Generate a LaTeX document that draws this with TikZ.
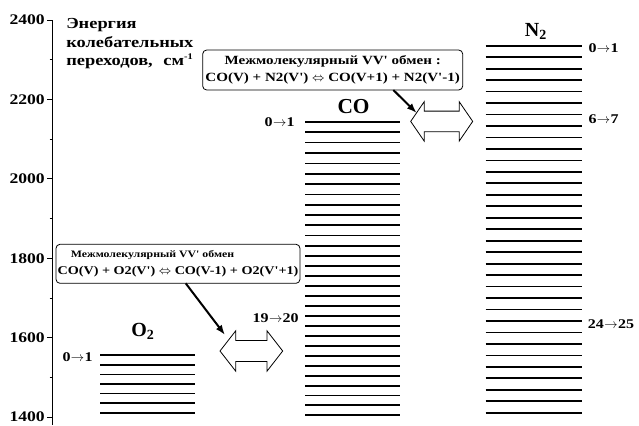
\documentclass[tikz,border=0pt]{standalone}
\usepackage{fontspec}
\setmainfont{Liberation Serif}
\newfontfamily\sfb[FakeStretch=1.2,Ligatures=TeXOff]{Liberation Serif}
\usetikzlibrary{arrows.meta}
\newcommand{\tr}{\kern0.3pt$\rightarrow$\kern0.3pt}
\tikzset{
  lvl/.style={line width=1.3pt},
  axisline/.style={line width=0.6pt},
  ticklab/.style={font=\sfb\bfseries\fontsize{11}{13}\selectfont, anchor=east, inner sep=0pt},
  titlab/.style={font=\sfb\bfseries\fontsize{11.5}{13}\selectfont, anchor=base west, inner sep=0pt},
  levlab/.style={font=\sfb\bfseries\fontsize{10}{12}\selectfont, inner sep=0pt},
  mol/.style={font=\bfseries\fontsize{15}{18}\selectfont, inner sep=0pt, anchor=base},
  infobox/.style={draw, rounded corners=3pt, line width=0.6pt, inner sep=0pt},
  dbl/.style={draw, line width=0.6pt, fill=white, line join=miter},
  conn/.style={line width=1.5pt, -{Latex[length=7.5pt,width=5.5pt]}}
}
\begin{document}
\begin{tikzpicture}[x=0.75pt,y=-0.75pt]
\useasboundingbox (0,0) rectangle (639,425);
% axis
\draw[axisline] (52,20) -- (52,425);
\foreach \e in {1400,1600,...,2400}{
  \draw[axisline] (47,{20+(2400-\e)*0.397}) -- (52,{20+(2400-\e)*0.397});
  \node[ticklab] (t\e) at (45,{20+(2400-\e)*0.397}) {\e};
}
\foreach \e in {1500,1700,...,2300}{
  \draw[axisline] (49.5,{20+(2400-\e)*0.397}) -- (52,{20+(2400-\e)*0.397});
}
% axis title
\node[titlab] (ttl1) at (66,28) {Энергия};
\node[titlab] (ttl2) at (66,47) {колебательных};
\node[titlab] (ttl3) at (66,65) {переходов,\hspace{8pt}см\raisebox{4pt}{\fontsize{6.5}{7}\selectfont -1}};
% O2 levels
\foreach \k in {0,...,6}{
  \draw[lvl] (100,{355.3+9.57*\k}) -- (195,{355.3+9.57*\k});
}
% CO levels
\foreach \k in {0,...,29}{
  \draw[lvl] (305,{121.7+10.487*\k-0.01287*\k*\k}) -- (400,{121.7+10.487*\k-0.01287*\k*\k});
}
% N2 levels
\foreach \k in {0,...,32}{
  \draw[lvl] (485.7,{45.7+11.47*\k}) -- (581.7,{45.7+11.47*\k});
}
% molecule labels
\node[mol] (o2) at (143,336.7) {O\textsubscript{2}};
\node[mol, font=\bfseries\fontsize{16}{19}\selectfont] (co) at (353.5,113) {CO};
\node[mol] (n2) at (536,36.7) {N\textsubscript{2}};
% level labels
\node[levlab, anchor=east] (lo2) at (93,357.5) {0\tr1};
\node[levlab, anchor=east] (lco1) at (295,122.5) {0\tr1};
\node[levlab, anchor=east] (lco19) at (299,318) {19\tr20};
\node[levlab, anchor=west] (ln0) at (588.3,47.7) {0\tr1};
\node[levlab, anchor=west] (ln6) at (588.3,119.3) {6\tr7};
\node[levlab, anchor=west] (ln24) at (587.7,324.3) {24\tr25};
% info boxes
\node[infobox, minimum width=195pt, minimum height=30pt, align=center,
      font=\sfb\bfseries\fontsize{9.4}{12.5}\selectfont] (box1) at (332.7,70)
  {Межмолекулярный VV' обмен :\\CO(V) + N2(V') $\Leftrightarrow$ CO(V+1) + N2(V'-1)};
\node[infobox, minimum width=183pt, minimum height=29.25pt, align=left,
      font=\sfb\bfseries\fontsize{8.85}{12.45}\selectfont] (box2) at (178,263.8)
  {\hspace*{10pt}{\fontsize{7.4}{12.45}\selectfont Межмолекулярный VV' обмен}\\CO(V) + O2(V') $\Leftrightarrow$ CO(V-1) + O2(V'+1)};
% double arrows
\draw[dbl] (410.7,121.4) -- (424.2,101.7) -- (424.2,111.1) -- (459.2,111.1) -- (459.2,101.7)
  -- (472.7,121.4) -- (459.2,141.1) -- (459.2,131.7) -- (424.2,131.7) -- (424.2,141.1) -- cycle;
\draw[dbl] (220,351) -- (235.8,330.7) -- (235.8,340.5) -- (266.9,340.5) -- (266.9,330.7)
  -- (282.7,351) -- (266.9,371.3) -- (266.9,361.5) -- (235.8,361.5) -- (235.8,371.3) -- cycle;
% connectors
\coordinate (c1s) at (393.3,90);
\coordinate (c1e) at (416.7,113);
\coordinate (c2s) at (185.7,283.3);
\coordinate (c2e) at (225,335);
\draw[conn] (c1s) -- (c1e);
\draw[conn] (c2s) -- (c2e);
\end{tikzpicture}
\end{document}
